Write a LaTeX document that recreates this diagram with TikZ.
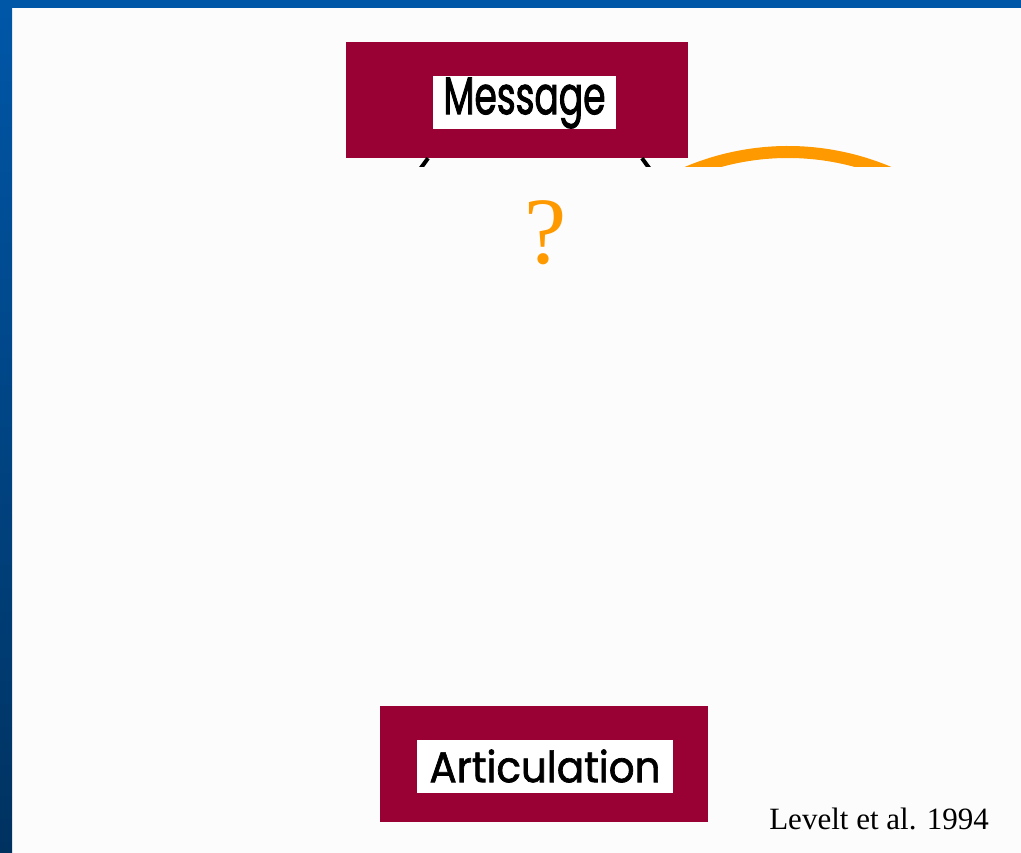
\documentclass[tikz,border=0pt]{standalone}
\usepackage{fontspec}
\setmainfont{Liberation Serif}
\newfontfamily\msgfont[FakeStretch=0.68,FakeBold=1.6]{Poppins}
\newfontfamily\artfont[FakeStretch=0.94,FakeBold=1.6]{Poppins}
\usetikzlibrary{positioning}
\definecolor{frameblue}{RGB}{0,87,168}
\definecolor{framedark}{RGB}{0,50,96}
\definecolor{maroon}{RGB}{153,0,51}
\definecolor{amber}{RGB}{255,153,0}

\begin{document}
\begin{tikzpicture}[x=1pt,y=-1pt,
 stage/.style={fill=maroon,inner sep=0pt,minimum width=#1,minimum height=116pt},
 tag/.style={fill=white,inner sep=0pt,minimum height=53pt,text=black},
 conn/.style={line width=4pt,black}]
% slide background and frame
\fill[white!99!black] (0,0) rectangle (1021,853);
\shade[top color=frameblue,bottom color=framedark] (0,0) rectangle (12,853);
\fill[frameblue] (0,0) rectangle (1021,8);
\useasboundingbox (0,0) rectangle (1021,853);

\node[stage=342pt] (msg) at (517,100) {};
\node[tag,minimum width=183pt,font=\msgfont\fontsize{53}{53}\selectfont] (msglbl) at (524.5,103) {Message};
\node[stage=328pt] (art) at (544,764) {};
\node[tag,minimum width=256pt,font=\artfont\fontsize{43}{43}\selectfont] (artlbl) at (545,766) {Articulation};

% only the first bit of the routes below the message is shown
\coordinate (leftgo) at (330,330);
\coordinate (rightgo) at (740,330);
\coordinate (loopc) at (788,411);
\begin{scope}
\clip (0,140) rectangle (1021,167);
\draw[conn] ([xshift=-89pt]msg.south) to[out=235,in=95] (leftgo);
\draw[conn] ([xshift=125pt]msg.south) to[out=-55,in=85] (rightgo);
\draw[amber,line width=12pt] (loopc) ++(-140:259) arc[start angle=-140,end angle=-40,radius=259];
\end{scope}

\node[text=amber,font=\fontsize{95}{95}\selectfont] (ask) at (546,233) {?};
\node[anchor=base east,font=\fontsize{31}{31}\selectfont,inner sep=0pt] (src) at (989,829) {Levelt et al. 1994};
\end{tikzpicture}
\end{document}
